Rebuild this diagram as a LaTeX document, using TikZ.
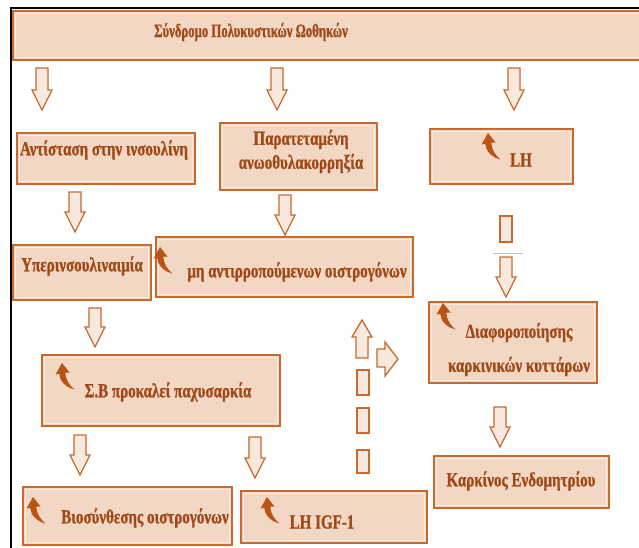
\documentclass[tikz,border=0pt]{standalone}
\usepackage{fontspec}
\setmainfont{Liberation Serif}[FakeStretch=0.75, BoldFeatures={FakeBold=0.8}]
\newfontfamily\titlefont{Liberation Serif}[FakeStretch=0.67, BoldFeatures={FakeBold=0.8}]
\definecolor{bord}{RGB}{200,105,45}
\definecolor{fillc}{RGB}{242,215,196}
\definecolor{txt}{RGB}{160,72,22}
\definecolor{iconc}{RGB}{185,85,20}
\begin{document}
\begin{tikzpicture}[x=1pt,y=-1pt,
  bx/.style={draw=bord, fill=fillc, line width=2pt, inner sep=0pt,
    path picture={\draw[white!55!fillc, line width=1.1pt]
      ([shift={(2.2pt,-2.2pt)}]path picture bounding box.north west) rectangle
      ([shift={(-2.2pt,2.2pt)}]path picture bounding box.south east);}},
  tx/.style={text=txt, font=\bfseries\fontsize{20}{24}\selectfont, inner sep=0pt, align=center},
  arr/.style={draw=bord, fill=fillc!55!white, line width=1.3pt, line join=miter},
  pics/darr/.style={code={\draw[arr] (-6,0) -- (6,0) -- (6,#1-20) -- (10,#1-20) -- (0,#1) -- (-10,#1-20) -- (-6,#1-20) -- cycle;}},
  pics/curv/.style={code={\fill[iconc] (0,0) -- (7.5,9.5) -- (3.2,9.8) .. controls (4,17) and (7,22) .. (12.5,26.5) .. controls (4,24.5) and (-2.5,18) .. (-2.8,10.8) -- (-6.5,11.5) -- cycle;}},
  dash box/.style={draw=bord, fill=fillc!55!white, line width=1.3pt}
]
\useasboundingbox (0,0) rectangle (639,548);
\fill[white] (0,0) rectangle (639,548);
% outer frame
\draw[black, line width=2pt] (11,548) -- (11,8) -- (645,8);

% boxes
\node[bx, minimum width=632pt, minimum height=49pt] (top) at (329,35.5) {};
\node[tx, font=\titlefont\bfseries\fontsize{19}{22}\selectfont] (ttop) at (251,32) {Σύνδρομο Πολυκυστικών Ωοθηκών};

\node[bx, minimum width=178pt, minimum height=51pt] (A) at (106,158.5) {};
\node[tx] (tA) at (104,150) {Αντίσταση στην ινσουλίνη};

\node[bx, minimum width=157pt, minimum height=67pt] (P) at (298.5,156.5) {};
\node[tx] (tP) at (301,151.5) {Παρατεταμένη\\ανωοθυλακορρηξία};

\node[bx, minimum width=143pt, minimum height=55pt] (LH) at (501.5,156.5) {};
\node[tx] (tLH) at (521,160) {LH};
\pic at (488,133) {curv};

\node[bx, minimum width=138pt, minimum height=55pt] (U) at (82,272.5) {};
\node[tx] (tU) at (82,266) {Υπερινσουλιναιμία};

\node[bx, minimum width=257pt, minimum height=60pt] (M) at (284.5,267) {};
\node[tx] (tM) at (297,272) {μη αντιρροπούμενων οιστρογόνων};
\pic at (160,247) {curv};

\node[bx, minimum width=168pt, minimum height=81pt] (D) at (513,342.5) {};
\node[tx] (tD) at (519,349.5) {Διαφοροποίησης\\[10pt]καρκινικών κυττάρων};
\pic at (443,303) {curv};

\node[bx, minimum width=175pt, minimum height=52pt] (K) at (521.5,482) {};
\node[tx] (tK) at (521,481) {Καρκίνος Ενδομητρίου};

\node[bx, minimum width=238pt, minimum height=71pt] (S) at (161,390.5) {};
\node[tx] (tS) at (168,392) {Σ.Β προκαλεί παχυσαρκία};
\pic at (62,363) {curv};

\node[bx, minimum width=209pt, minimum height=58pt] (B) at (127.5,516) {};
\node[tx] (tB) at (145,518) {Βιοσύνθεσης οιστρογόνων};
\pic at (33,497) {curv};

\node[bx, minimum width=186pt, minimum height=52pt] (L2) at (334,517) {};
\node[tx] (tL2) at (322,522) {LH IGF-1};
\pic at (267,497) {curv};

% block arrows
\pic at (42,68) {darr=42};
\pic at (277,68) {darr=42};
\pic at (514,68) {darr=42};
\pic at (75,192) {darr=40};
\pic at (285,195) {darr=40};
\pic at (506,257) {darr=40};
\pic at (95,308) {darr=39};
\pic at (80,435) {darr=40};
\pic at (255,437) {darr=41};
\pic at (500,407) {darr=40};

% LH -> D dashed part
\draw[dash box] (500,216) rectangle (512,242);
\draw[fillc!70!gray, line width=0.8pt] (493,253) -- (523,253);

% up and right arrows
\draw[arr] (356,358) -- (356,337) -- (352,337) -- (362,320) -- (372,337) -- (368,337) -- (368,358) -- cycle;
\draw[arr] (377,349) -- (385,349) -- (385,342) -- (398,359) -- (385,376) -- (385,367) -- (377,367) -- cycle;
\draw[dash box] (357,370) rectangle (369,395);
\draw[dash box] (357,408) rectangle (369,433);
\draw[dash box] (357,450) rectangle (369,473);
\end{tikzpicture}
\end{document}
